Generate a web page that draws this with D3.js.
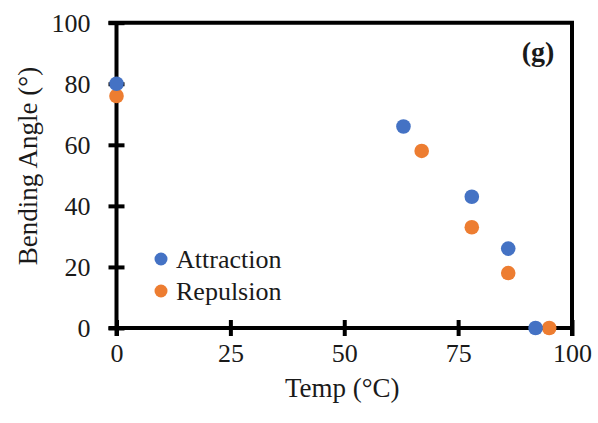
<!DOCTYPE html>
<html>
<head>
<meta charset="utf-8">
<script src="https://cdn.jsdelivr.net/npm/d3@7"></script>
<style>
  body { margin: 0; background: #fff; }
  text { font-family: "Liberation Serif", "Times New Roman", serif; fill: #1a1a1a; }
</style>
</head>
<body>
<svg id="chart" width="598" height="423"></svg>
<script>
const xTicks = [0, 25, 50, 75, 100]
const yTicks = [0, 20, 40, 60, 80, 100]
const attractionTemp = [0, 63, 78, 86, 92]
const attractionAngle = [80, 66, 43, 26, 0]
const repulsionTemp = [0, 67, 78, 86, 95]
const repulsionAngle = [76, 58, 33, 18, 0]
const seriesNames = ["Attraction", "Repulsion"]
const seriesColors = ["#4472C4", "#ED7D31"]

const margins = {left: 116.5, right: 26, top: 22.7, bottom: 95}
const width = 598, height = 423

const svg = d3.select("#chart")

const x = d3.scaleLinear().domain([0, 100]).range([margins.left, width - margins.right])
const y = d3.scaleLinear().domain([0, 100]).range([height - margins.bottom, margins.top])

const stroke = 4
const tick = 8

// frame: top and right
svg.append("line")
  .attr("x1", x(0) - tick).attr("x2", x(100) + stroke / 2)
  .attr("y1", y(100)).attr("y2", y(100))
  .attr("stroke", "#000").attr("stroke-width", stroke)
svg.append("line")
  .attr("x1", x(100)).attr("x2", x(100))
  .attr("y1", y(100)).attr("y2", y(0) + tick)
  .attr("stroke", "#000").attr("stroke-width", stroke)

// x axis
const xaxis = svg.append("g")
  .attr("transform", `translate(0, ${y(0)})`)
  .call(d3.axisBottom(x).tickValues(xTicks).tickSize(tick).tickSizeOuter(0).tickPadding(8))
xaxis.select(".domain")
  .attr("d", `M${x(0) - tick},0H${x(100)}`)
  .attr("stroke", "#000").attr("stroke-width", stroke)
xaxis.selectAll(".tick line")
  .attr("y1", -tick).attr("stroke", "#000").attr("stroke-width", stroke)
xaxis.selectAll(".tick text")
  .style("font-size", "26px").attr("fill", "#1a1a1a")

// y axis
const yaxis = svg.append("g")
  .attr("transform", `translate(${x(0)}, 0)`)
  .call(d3.axisLeft(y).tickValues(yTicks).tickSize(tick).tickSizeOuter(0).tickPadding(18))
yaxis.select(".domain")
  .attr("d", `M0,${y(100)}V${y(0) + tick}`)
  .attr("stroke", "#000").attr("stroke-width", stroke)
yaxis.selectAll(".tick line")
  .attr("x2", tick).attr("x1", -tick).attr("stroke", "#000").attr("stroke-width", stroke)
yaxis.selectAll(".tick text")
  .style("font-size", "26px").attr("fill", "#1a1a1a")

// axis titles
svg.append("text")
  .attr("x", x(50) - 2).attr("y", 397)
  .attr("text-anchor", "middle")
  .style("font-size", "27px")
  .text("Temp (°C)")
svg.append("text")
  .attr("transform", "translate(37, 166) rotate(-90)")
  .attr("text-anchor", "middle")
  .style("font-size", "27px")
  .text("Bending Angle (°)")

// panel label
svg.append("text")
  .attr("x", 538).attr("y", 61)
  .attr("text-anchor", "middle")
  .style("font-size", "28px").style("font-weight", "bold")
  .text("(g)")

// points
const series = [
  attractionTemp.map((t, i) => ({t, a: attractionAngle[i]})),
  repulsionTemp.map((t, i) => ({t, a: repulsionAngle[i]}))
]
// repulsion drawn first so attraction sits on top
;[1, 0].forEach((s) => {
  svg.append("g")
    .selectAll("circle")
    .data(series[s])
    .join("circle")
    .attr("cx", (d) => x(d.t))
    .attr("cy", (d) => y(d.a))
    .attr("r", 7.3)
    .attr("fill", seriesColors[s])
})

// legend
const legend = svg.append("g").attr("transform", "translate(161, 259)")
seriesNames.forEach((name, i) => {
  legend.append("circle")
    .attr("cx", 0).attr("cy", i * 32).attr("r", 6.5)
    .attr("fill", seriesColors[i])
  legend.append("text")
    .attr("x", 15).attr("y", i * 32 + 8.5)
    .style("font-size", "26px")
    .text(name)
})
</script>
</body>
</html>
